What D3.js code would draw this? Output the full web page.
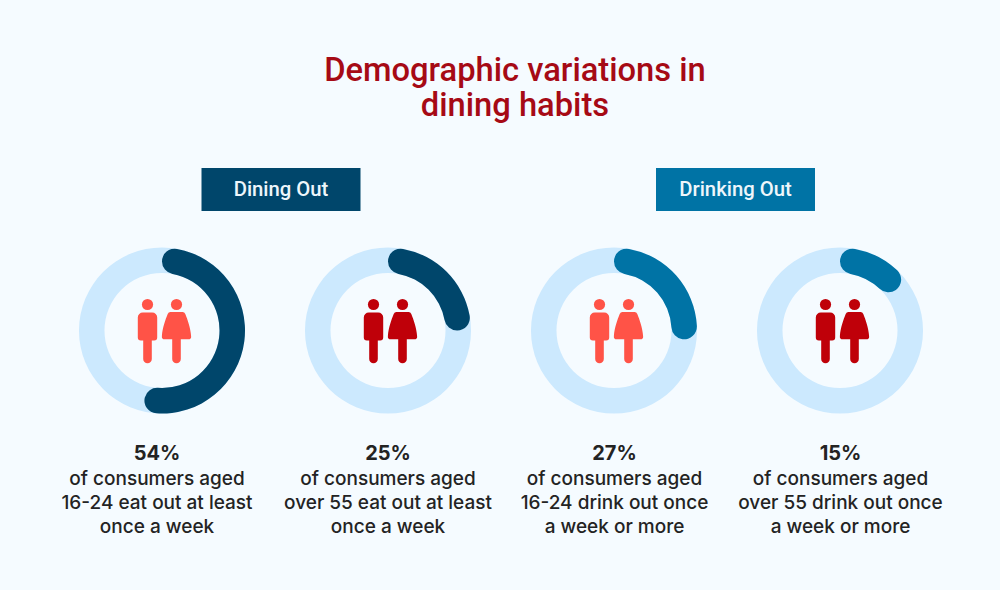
<!DOCTYPE html>
<html>
<head>
<meta charset="utf-8">
<script src="https://cdn.jsdelivr.net/npm/d3@7"></script>
<style>
html,body{margin:0;padding:0;background:#f5fbff;}
svg{display:block;}
</style>
</head>
<body>
<svg id="chart" width="1000" height="590"></svg>
<script>
// Share of consumers going out at least weekly, by activity and age group
const titleLines = ["Demographic variations in", "dining habits"];
const groups = ["Dining Out", "Drinking Out"];
const percents = [54, 25, 27, 15];
const percentGroups = [0, 0, 1, 1];
const ageGroups = ["young", "older", "young", "older"];
const captions = [
  ["of consumers aged", "16-24 eat out at least", "once a week"],
  ["of consumers aged", "over 55 eat out at least", "once a week"],
  ["of consumers aged", "16-24 drink out once", "a week or more"],
  ["of consumers aged", "over 55 drink out once", "a week or more"]
];

const groupColors = ["#00466b", "#0073a5"];
const ageColors = { young: "#ff5347", older: "#bf0009" };
const trackColor = "#cce9fe";
const titleFont = "Roboto, sans-serif";
const bodyFont = "Inter, sans-serif";

const svg = d3.select("#chart");
const rows = d3.range(percents.length);

const x = d3.scalePoint().domain(rows).range([162, 840]);
const angle = d3.scaleLinear().domain([0, 100]).range([0, 2 * Math.PI]);
const ringY = 330.5, outer = 83, inner = 57.5;

svg.append("g").selectAll("text").data(titleLines).join("text")
  .attr("x", 515).attr("y", (d, i) => 81 + i * 35)
  .attr("text-anchor", "middle")
  .attr("font-family", titleFont).attr("font-size", 32.7).attr("font-weight", 500)
  .attr("fill", "#a60a15").text(d => d);

// Heading tabs centred over each pair of rings
const tabs = svg.append("g").selectAll("g").data(groups).join("g")
  .attr("transform", (d, i) => `translate(${[281, 735.5][i]},189.5)`);
tabs.append("rect").attr("x", -79.5).attr("y", -21.5).attr("width", 159).attr("height", 43)
  .attr("fill", (d, i) => groupColors[i]);
tabs.append("text").attr("y", 6.5).attr("text-anchor", "middle")
  .attr("font-family", titleFont).attr("font-size", 20.3).attr("font-weight", 500)
  .attr("fill", "#eef6fb").text(d => d);

const track = d3.arc().innerRadius(inner).outerRadius(outer).startAngle(0).endAngle(2 * Math.PI);
const valueArc = d3.arc().innerRadius(inner).outerRadius(outer).cornerRadius(12.75).startAngle(0)
  .endAngle(d => angle(d));

const cards = svg.append("g").selectAll("g").data(rows).join("g")
  .attr("transform", i => `translate(${x(i)},${ringY})`);

cards.append("path").attr("d", track()).attr("fill", trackColor);
cards.append("path").attr("d", i => valueArc(percents[i]))
  .attr("fill", i => groupColors[percentGroups[i]]);

// Male and female pictograms, drawn around the ring's centre
const man = "M-9.7,-13 a5,5 0 0 1 5,-5 h9.4 a5,5 0 0 1 5,5 V7 a3,3 0 0 1 -3,3 h-2.4 V28.5 a4.3,4.3 0 0 1 -8.6,0 V10 h-2.4 a3,3 0 0 1 -3,-3 Z";
const woman = "M-6,-18.5 H6 a3,3 0 0 1 2.8,1.9 C11,-11 14,-3 14.6,5.4 a3,3 0 0 1 -2.9,3.4 H4.3 V28.5 a4.3,4.3 0 0 1 -8.6,0 V8.8 H-11.7 a3,3 0 0 1 -2.9,-3.4 C-14,-3 -11,-11 -8.8,-16.6 A3,3 0 0 1 -6,-18.5 Z";

const figures = cards.append("g").attr("fill", i => ageColors[ageGroups[i]]);
figures.append("circle").attr("cx", -14.5).attr("cy", -26).attr("r", 5.6);
figures.append("path").attr("d", man).attr("transform", "translate(-14.5,0)");
figures.append("circle").attr("cx", 14.5).attr("cy", -26).attr("r", 5.6);
figures.append("path").attr("d", woman).attr("transform", "translate(14.5,0)");

const notes = svg.append("g").selectAll("text").data(rows).join("text")
  .attr("text-anchor", "middle")
  .attr("font-family", bodyFont).attr("font-size", 19).attr("font-weight", 500)
  .attr("fill", "#232323");
const labelX = [157, 388, 614.5, 840.5];
notes.each(function (i) {
  const t = d3.select(this);
  t.append("tspan").attr("x", labelX[i]).attr("y", 459.5).attr("font-size", 20).attr("font-weight", 700).text(percents[i] + "%");
  captions[i].forEach((line, k) => {
    t.append("tspan").attr("x", labelX[i]).attr("y", 484.5 + k * 24).text(line);
  });
});
</script>
</body>
</html>
